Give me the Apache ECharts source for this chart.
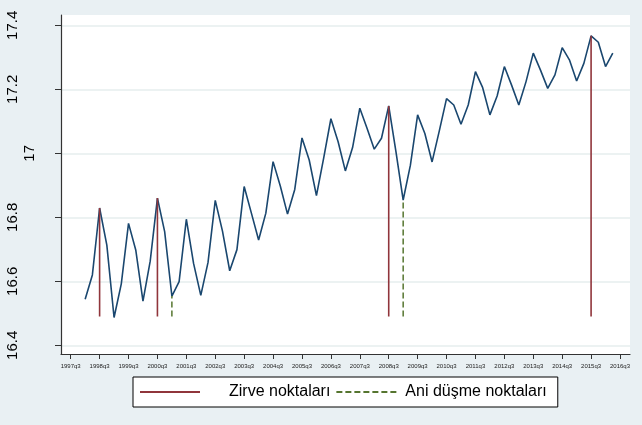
<!DOCTYPE html>
<html>
<head>
<meta charset="utf-8">
<script src="https://cdn.jsdelivr.net/npm/echarts@6/dist/echarts.min.js"></script>
<style>
html,body{margin:0;padding:0;background:#e9f0f3;}
#chart{width:642px;height:425px;}
</style>
</head>
<body>
<div id="chart"></div>
<script>
// x ekseni etiketleri (her 4 ceyrekte bir, 1997q3 = 0)
var tickLabels = ['1997q3','1998q3','1999q3','2000q3','2001q3','2002q3','2003q3','2004q3','2005q3','2006q3',
	'2007q3','2008q3','2009q3','2010q3','2011q3','2012q3','2013q3','2014q3','2015q3','2016q3'];
// seri 1998q1 (indeks 2) ile basliyor
var startIdx = 2;
var lnValues = [16.544,16.620,16.829,16.713,16.487,16.592,16.781,16.698,16.538,16.663,
	16.860,16.755,16.554,16.599,16.794,16.656,16.556,16.659,16.853,16.757,
	16.633,16.699,16.896,16.813,16.729,16.813,16.974,16.898,16.810,16.887,
	17.048,16.979,16.868,16.985,17.108,17.036,16.945,17.018,17.141,17.078,
	17.013,17.047,17.148,17.005,16.854,16.963,17.120,17.062,16.973,17.070,
	17.171,17.151,17.091,17.151,17.255,17.205,17.120,17.179,17.271,17.213,
	17.151,17.224,17.313,17.260,17.203,17.245,17.330,17.292,17.226,17.281,
	17.367,17.347,17.271,17.313];
var peakIdx = [4,12,44,72];   //zirve noktalari
var dropIdx = [14,46];        //ani dusme noktalari
var spikeBase = 16.49;
var yMin = 16.4, yMax = 17.4, yStep = 0.2;

function valueAt(i){
	return lnValues[i - startIdx];
}
function spikeData(idx){
	var d = [];
	for(var i=0;i<idx.length;i++){
		d.push([idx[i], spikeBase]);
		d.push([idx[i], valueAt(idx[i])]);
		d.push([idx[i], '-']);
	}
	return d;
}
var mainData = [];
for(var i=0;i<lnValues.length;i++){
	mainData.push([startIdx + i, lnValues[i]]);
}

var font = 'Liberation Sans';
var chart = echarts.init(document.getElementById('chart'));
var option = {
	animation: false,
	backgroundColor: '#e9f0f3',
	textStyle: {fontFamily: font},
	grid: [
		//cerceve
		{left: 61, right: 12, top: 15, bottom: 71, show: true, backgroundColor: '#fff', borderWidth: 0},
		//y ekseni ve izgara
		{left: 61, right: 12, top: 25.3, bottom: 79.7},
		//veri
		{left: 70.7, right: 22, top: 25.3, bottom: 79.7}
	],
	xAxis: [
		{gridIndex: 0, type: 'value', position: 'bottom', min: 0, max: 1,
			axisLine: {show: true, lineStyle: {color: '#333', width: 1.2}},
			axisTick: {show: false}, axisLabel: {show: false}, splitLine: {show: false}},
		{gridIndex: 1, type: 'value', position: 'bottom', min: 0, max: 1, show: false},
		{gridIndex: 2, type: 'value', position: 'bottom', min: 0, max: 76, interval: 4, offset: 8.7,
			axisLine: {show: false},
			axisTick: {show: true, length: 5, lineStyle: {color: '#333'}},
			axisLabel: {fontSize: 6, color: '#222', margin: 9,
				formatter: function(v){ return tickLabels[Math.round(v/4)] || ''; }},
			splitLine: {show: false}}
	],
	yAxis: [
		{gridIndex: 0, type: 'value', position: 'left', min: 0, max: 1,
			axisLine: {show: true, lineStyle: {color: '#333', width: 1.2}},
			axisTick: {show: false}, axisLabel: {show: false}, splitLine: {show: false}},
		{gridIndex: 1, type: 'value', position: 'left', min: yMin, max: yMax, interval: yStep,
			axisLine: {show: false},
			axisTick: {show: true, length: 6, lineStyle: {color: '#333'}},
			axisLabel: {rotate: 90, fontSize: 15, color: '#000', margin: 41,
				formatter: function(v){ return Math.abs(v-17)<1e-6 ? '' : String(+v.toFixed(1)); }},
			splitLine: {show: true, lineStyle: {color: '#e6eeee', width: 1.5}}},
		{gridIndex: 1, type: 'value', position: 'left', min: yMin, max: yMax, interval: yStep,
			axisLine: {show: false}, axisTick: {show: false}, splitLine: {show: false},
			axisLabel: {rotate: 90, fontSize: 15, color: '#000', margin: 24,
				formatter: function(v){ return Math.abs(v-17)<1e-6 ? '17' : ''; }}},
		{gridIndex: 2, type: 'value', position: 'left', min: yMin, max: yMax, show: false}
	],
	legend: {
		left: 133, top: 377,
		backgroundColor: '#fff', borderColor: '#000', borderWidth: 1, borderRadius: 0,
		padding: [7, 11, 7, 6],
		itemWidth: 60, itemHeight: 14, itemGap: 5,
		itemStyle: {opacity: 0},
		textStyle: {fontSize: 16, color: '#000', fontFamily: font},
		data: [
			{name: 'Zirve noktaları', textStyle: {padding: [0, 0, 0, 24]}},
			{name: 'Ani düşme noktaları', textStyle: {padding: [0, 0, 0, 4]}}
		]
	},
	series: [
		{
			name: 'lnGSYH', type: 'line', xAxisIndex: 2, yAxisIndex: 3,
			data: mainData, symbol: 'none',
			lineStyle: {color: '#1a476f', width: 1.6}, itemStyle: {color: '#1a476f'}
		},
		{
			name: 'Zirve noktaları', type: 'line', xAxisIndex: 2, yAxisIndex: 3,
			data: spikeData(peakIdx), symbol: 'none', connectNulls: false,
			lineStyle: {color: '#90353b', width: 1.6}, itemStyle: {color: '#90353b'}
		},
		{
			name: 'Ani düşme noktaları', type: 'line', xAxisIndex: 2, yAxisIndex: 3,
			data: spikeData(dropIdx), symbol: 'none', connectNulls: false,
			lineStyle: {color: '#55752f', width: 1.5, type: [6, 3]}, itemStyle: {color: '#55752f'}
		}
	]
};
chart.setOption(option);
</script>
</body>
</html>
